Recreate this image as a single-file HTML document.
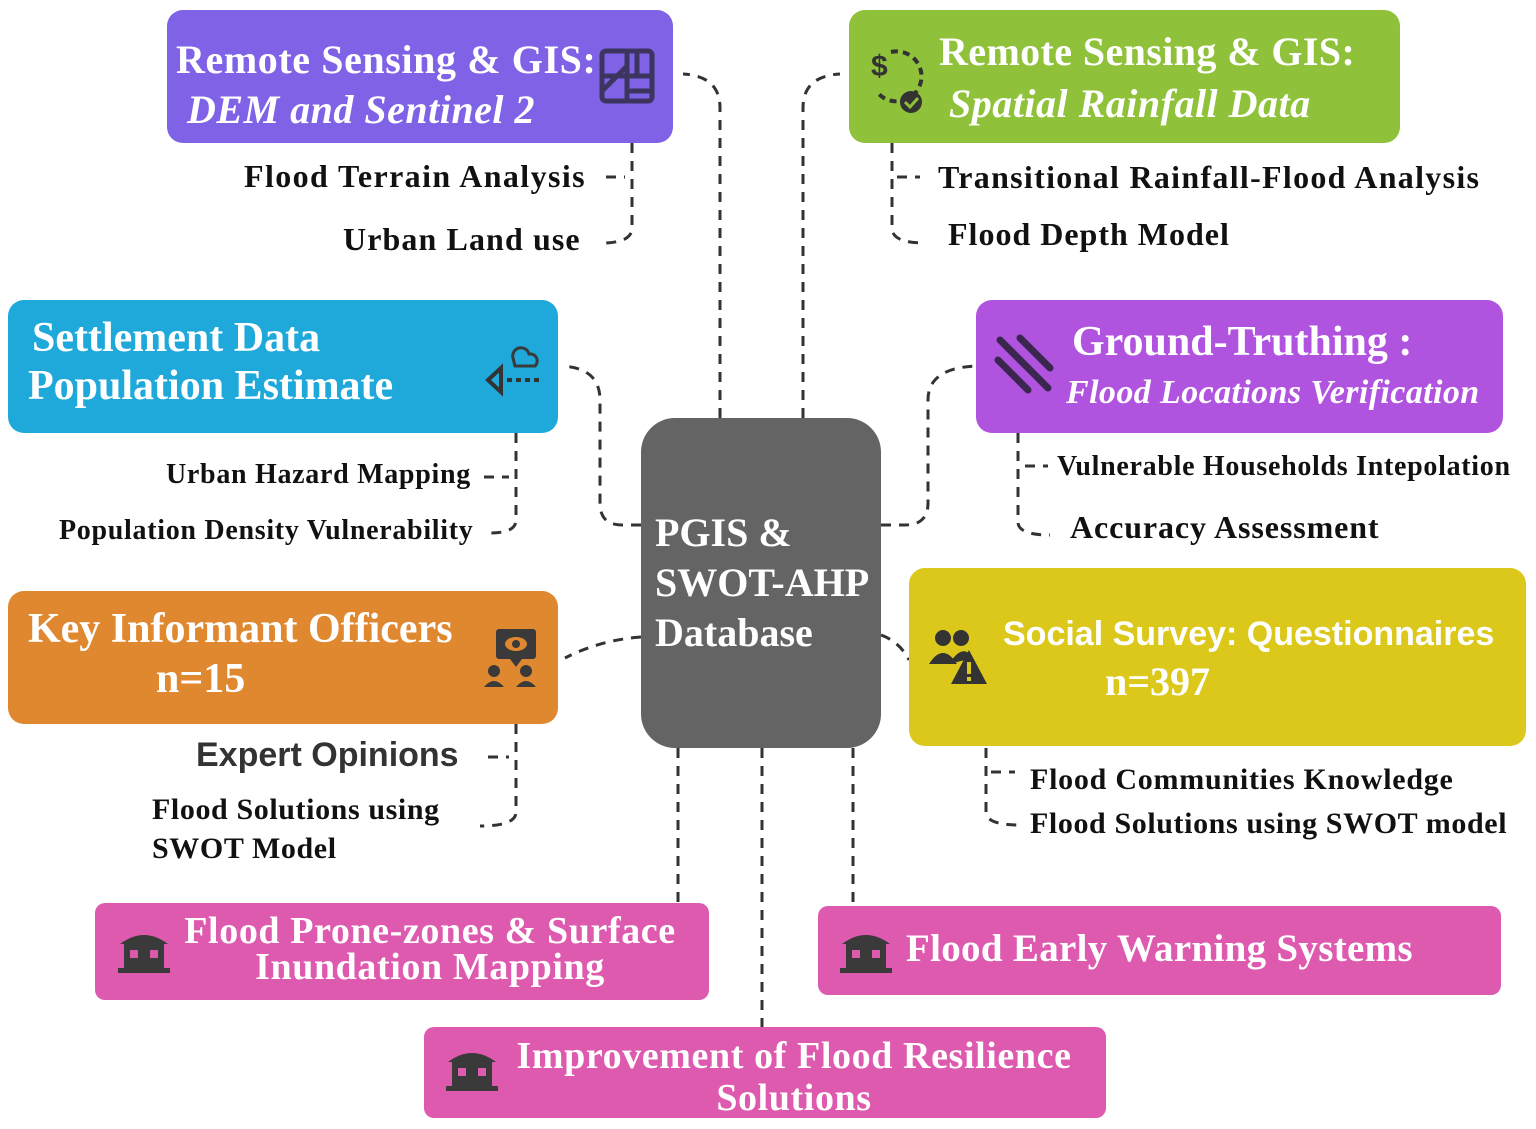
<!DOCTYPE html>
<html><head><meta charset="utf-8"><style>
body{margin:0;width:1536px;height:1129px;background:#fff;position:relative;overflow:hidden;font-family:"Liberation Serif",serif;}
.b{position:absolute;border-radius:16px;color:#fff;font-weight:bold;}
.b div{white-space:nowrap;}
.t{position:absolute;white-space:nowrap;font-weight:bold;color:#111;letter-spacing:1px;}
svg{position:absolute;left:0;top:0;}
</style></head><body>
<svg width="1536" height="1129">
<g fill="none" stroke="#333" stroke-width="3" stroke-dasharray="10,8">
<path d="M720,418 L720,108 Q720,76 683,74"/>
<path d="M803,418 L803,108 Q803,76 840,74"/>
<path d="M641,525 L622,525 Q600,525 600,503 L600,400 Q600,368 562,366"/>
<path d="M881,525 L905,525 Q928,525 928,503 L928,400 Q928,368 976,366"/>
<path d="M641,637 Q600,640 565,658"/>
<path d="M881,635 Q900,642 909,660"/>
<path d="M678,748 L678,902"/>
<path d="M762,748 L762,1027"/>
<path d="M853,748 L853,906"/>
<path d="M632,143 L632,228 Q632,242 605,243"/>
<path d="M606,177 L625,177"/>
<path d="M892,143 L892,228 Q892,243 925,243"/>
<path d="M897,177 L920,177"/>
<path d="M516,433 L516,520 Q516,533 490,533"/>
<path d="M484,477 L509,477"/>
<path d="M1018,433 L1018,522 Q1018,535 1050,535"/>
<path d="M1025,466 L1048,466"/>
<path d="M516,724 L516,812 Q516,826 480,826"/>
<path d="M488,757 L509,757"/>
<path d="M986,748 L986,812 Q986,825 1020,825"/>
<path d="M991,772 L1015,772"/>
</g>
</svg>
<div class="b" style="left:167px;top:10px;width:506px;height:133px;background:#7f62e6;">
<div style="position:absolute;left:9px;top:26px;font-size:40px;letter-spacing:0.6px;">Remote Sensing &amp; GIS:</div>
<div style="position:absolute;left:20px;top:76px;font-size:40px;font-style:italic;letter-spacing:0.5px;">DEM and Sentinel 2</div>
<svg width="60" height="60" style="left:430px;top:36px"><g fill="none" stroke="#3d3560" stroke-width="5"><rect x="5" y="5" width="50" height="50" rx="4"/><path d="M5,30 H55 M30,5 V55 M5,45 L30,20 M40,5 V30 M30,45 H55"/></g></svg>
</div>
<div class="b" style="left:849px;top:10px;width:551px;height:133px;background:#8fc13a;">
<div style="position:absolute;left:90px;top:18px;font-size:40px;letter-spacing:0.4px;">Remote Sensing &amp; GIS:</div>
<div style="position:absolute;left:100px;top:70px;font-size:40px;font-style:italic;letter-spacing:0.5px;">Spatial Rainfall Data</div>
<svg width="60" height="70" style="left:20px;top:34px"><text x="2" y="32" font-size="30" font-weight="bold" fill="#333" font-family="Liberation Sans">$</text><path d="M22,8 A25,25 0 1 1 8,48" fill="none" stroke="#333" stroke-width="4" stroke-dasharray="7,5"/><circle cx="42" cy="58" r="11" fill="#333"/><path d="M36,58 l5,5 l8,-9" stroke="#8fc13a" stroke-width="3" fill="none"/></svg>
</div>
<div class="b" style="left:8px;top:300px;width:550px;height:133px;background:#1fa9db;">
<div style="position:absolute;left:24px;top:14px;font-size:42px;">Settlement Data</div>
<div style="position:absolute;left:20px;top:62px;font-size:42px;">Population Estimate</div>
<svg width="60" height="60" style="left:475px;top:38px"><path d="M30,20 a8,8 0 0 1 16,-4 a7,7 0 0 1 6,12 h-20z" fill="none" stroke="#3a3a3a" stroke-width="3"/><path d="M5,42 L18,30 V54Z" fill="none" stroke="#333" stroke-width="4"/><path d="M24,42 H56" stroke="#333" stroke-width="4" stroke-dasharray="5,4"/></svg>
</div>
<div class="b" style="left:976px;top:300px;width:527px;height:133px;background:#b054e0;">
<div style="position:absolute;left:96px;top:18px;font-size:42px;">Ground-Truthing :</div>
<div style="position:absolute;left:90px;top:74px;font-size:34px;font-style:italic;letter-spacing:0.4px;">Flood Locations Verification</div>
<svg width="70" height="70" style="left:14px;top:32px"><g stroke="#3b2650" stroke-width="7" stroke-linecap="round"><path d="M8,28 L38,58 M10,8 L58,56 M30,6 L60,36"/></g></svg>
</div>
<div class="b" style="left:8px;top:591px;width:550px;height:133px;background:#e08830;">
<div style="position:absolute;left:20px;top:14px;font-size:42px;">Key Informant Officers</div>
<div style="position:absolute;left:148px;top:64px;font-size:42px;">n=15</div>
<svg width="60" height="66" style="left:474px;top:34px"><rect x="14" y="4" width="40" height="30" rx="3" fill="#3a3a3a"/><path d="M28,34 l6,8 l6,-8z" fill="#3a3a3a"/><ellipse cx="34" cy="19" rx="11" ry="7" fill="#e08830"/><circle cx="34" cy="19" r="4" fill="#3a3a3a"/><circle cx="12" cy="46" r="6" fill="#3a3a3a"/><circle cx="44" cy="46" r="6" fill="#3a3a3a"/><path d="M2,62 q10,-12 20,0z M34,62 q10,-12 20,0z" fill="#3a3a3a"/></svg>
</div>
<div class="b" style="left:909px;top:568px;width:617px;height:178px;background:#dcc81b;">
<div style="position:absolute;left:94px;top:47px;font-size:34px;font-family:'Liberation Sans',sans-serif;">Social Survey: Questionnaires</div>
<div style="position:absolute;left:196px;top:90px;font-size:40px;">n=397</div>
<svg width="64" height="64" style="left:18px;top:56px"><circle cx="16" cy="14" r="8" fill="#333"/><circle cx="34" cy="14" r="8" fill="#333"/><path d="M2,40 q14,-22 28,0z M22,40 q14,-22 24,-6" fill="#333"/><path d="M42,26 L60,60 H24Z" fill="#333"/><rect x="40" y="38" width="4" height="12" fill="#dcc81b"/><rect x="40" y="53" width="4" height="4" fill="#dcc81b"/></svg>
</div>
<div class="b" style="left:641px;top:418px;width:240px;height:330px;background:#646464;border-radius:34px;">
<div style="position:absolute;left:14px;top:90px;font-size:40px;line-height:50px;">PGIS &amp;<br>SWOT-AHP<br>Database</div>
</div>
<div class="b" style="left:95px;top:903px;width:614px;height:97px;background:#dd5aae;border-radius:10px;">
<div style="position:absolute;left:80px;top:10px;font-size:38px;line-height:36px;text-align:center;width:510px;letter-spacing:0.6px;">Flood Prone-zones &amp; Surface<br>Inundation Mapping</div>
</div>
<div class="b" style="left:818px;top:906px;width:683px;height:89px;background:#dd5aae;border-radius:10px;">
<div style="position:absolute;left:88px;top:20px;font-size:39px;letter-spacing:0.3px;">Flood Early Warning Systems</div>
</div>
<div class="b" style="left:424px;top:1027px;width:682px;height:91px;background:#dd5aae;border-radius:10px;">
<div style="position:absolute;left:80px;top:8px;font-size:38px;line-height:42px;text-align:center;width:580px;letter-spacing:0.6px;">Improvement of Flood Resilience<br>Solutions</div>
</div>
<svg width="60" height="50" style="left:116px;top:928px"><g fill="#3a3a3a"><path d="M4,16 Q28,-2 52,16z"/><rect x="8" y="16" width="40" height="24"/><rect x="2" y="40" width="52" height="5"/></g><g fill="#dd5aae"><rect x="14" y="22" width="8" height="8"/><rect x="34" y="22" width="8" height="8"/></g></svg>
<svg width="60" height="50" style="left:838px;top:928px"><g fill="#3a3a3a"><path d="M4,16 Q28,-2 52,16z"/><rect x="8" y="16" width="40" height="24"/><rect x="2" y="40" width="52" height="5"/></g><g fill="#dd5aae"><rect x="14" y="22" width="8" height="8"/><rect x="34" y="22" width="8" height="8"/></g></svg>
<svg width="60" height="50" style="left:444px;top:1046px"><g fill="#3a3a3a"><path d="M4,16 Q28,-2 52,16z"/><rect x="8" y="16" width="40" height="24"/><rect x="2" y="40" width="52" height="5"/></g><g fill="#dd5aae"><rect x="14" y="22" width="8" height="8"/><rect x="34" y="22" width="8" height="8"/></g></svg>
<div class="t" style="left:244px;top:158px;font-size:32px;letter-spacing:1.4px;">Flood Terrain Analysis</div>
<div class="t" style="left:343px;top:221px;font-size:32px;letter-spacing:1.1px;">Urban Land use</div>
<div class="t" style="left:938px;top:159px;font-size:32px;letter-spacing:1.3px;">Transitional Rainfall-Flood Analysis</div>
<div class="t" style="left:948px;top:216px;font-size:32px;letter-spacing:1px;">Flood Depth Model</div>
<div class="t" style="left:166px;top:459px;font-size:28px;letter-spacing:0.7px;">Urban Hazard Mapping</div>
<div class="t" style="left:59px;top:515px;font-size:28px;letter-spacing:0.7px;">Population Density Vulnerability</div>
<div class="t" style="left:1057px;top:451px;font-size:28px;letter-spacing:0.7px;">Vulnerable Households Intepolation</div>
<div class="t" style="left:1070px;top:509px;font-size:32px;letter-spacing:0.9px;">Accuracy Assessment</div>
<div class="t" style="left:196px;top:736px;font-size:34px;font-family:'Liberation Sans',sans-serif;color:#333;letter-spacing:0;">Expert Opinions</div>
<div class="t" style="left:152px;top:790px;font-size:30px;line-height:39px;letter-spacing:0.6px;">Flood Solutions using<br>SWOT Model</div>
<div class="t" style="left:1030px;top:763px;font-size:30px;letter-spacing:0.75px;">Flood Communities Knowledge</div>
<div class="t" style="left:1030px;top:807px;font-size:30px;letter-spacing:0.6px;">Flood Solutions using SWOT model</div>
</body></html>
